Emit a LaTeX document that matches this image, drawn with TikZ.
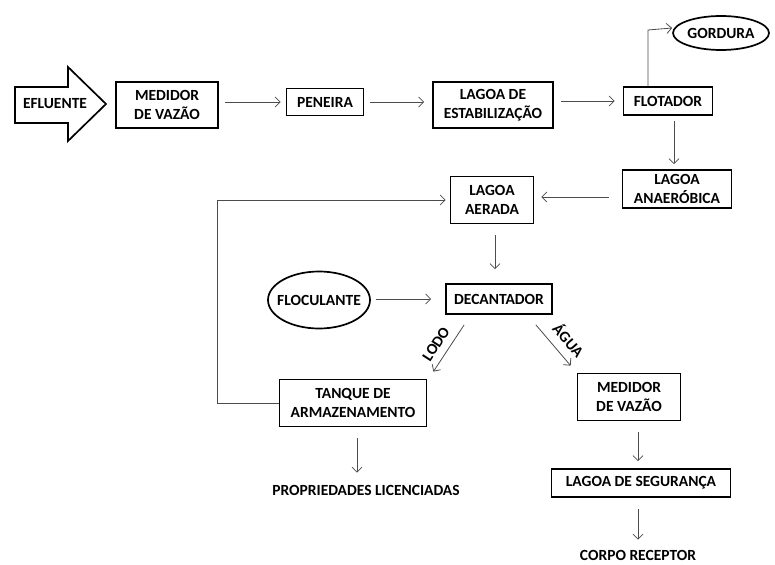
\documentclass[tikz,border=0pt]{standalone}
\usepackage{fontspec}
\setmainfont{Carlito}
\usetikzlibrary{arrows.meta,shapes.geometric}
\begin{document}
\begin{tikzpicture}[x=1pt,y=-1pt,
  every node/.style={font=\bfseries\fontsize{15.5}{18.5}\selectfont, align=center, inner sep=0pt},
  box/.style={draw=black, line width=1.7pt, rectangle},
  oval/.style={draw=black, line width=1.7pt, ellipse, inner xsep=-20pt, inner ysep=-5pt},
  arr/.style={draw=black!70, line width=0.8pt, -{Straight Barb[length=5pt,width=10pt]}}]
\useasboundingbox (0,0) rectangle (775,564);
% EFLUENTE arrow
\draw[line width=1.7pt, line join=miter] (15,87) -- (68,87) -- (68,67) -- (106,104) -- (68,141) -- (68,123) -- (15,123) -- cycle;
\node (efl) at (55,104) {EFLUENTE};
% nodes
\node[box, minimum width=102pt, minimum height=46pt] (med1) at (167,105) {MEDIDOR\\DE VAZÃO};
\node[box, minimum width=77pt, minimum height=27pt] (pen) at (325,102) {PENEIRA};
\node[box, minimum width=120pt, minimum height=46pt] (est) at (493,105) {LAGOA DE\\ESTABILIZAÇÃO};
\node[box, minimum width=89pt, minimum height=28pt] (flot) at (668,101) {FLOTADOR};
\node[oval, minimum width=96pt, minimum height=34pt] (gord) at (721,33) {GORDURA};
\node[box, minimum width=109pt, minimum height=38pt] (anae) at (677,189) {LAGOA\\ANAERÓBICA};
\node[box, minimum width=83pt, minimum height=47pt] (aer) at (492,200) {LAGOA\\AERADA};
\node[oval, minimum width=102pt, minimum height=57pt] (floc) at (319,300) {FLOCULANTE};
\node[box, minimum width=106pt, minimum height=30pt] (dec) at (499,299) {DECANTADOR};
\node[box, minimum width=147pt, minimum height=47pt] (tanq) at (353,403) {TANQUE DE\\ARMAZENAMENTO};
\node[box, minimum width=103pt, minimum height=47pt] (med2) at (629,397) {MEDIDOR\\DE VAZÃO};
\node[box, minimum width=179pt, minimum height=28pt] (seg) at (641,483) {LAGOA DE SEGURANÇA};
\node (prop) at (366,490) {PROPRIEDADES LICENCIADAS};
\node (corp) at (638,555) {CORPO RECEPTOR};
\node[rotate=57] (lodo) at (436,344) {LODO};
\node[rotate=-49] (agua) at (569,340) {ÁGUA};
% connectors
\draw[arr, shorten <=6pt, shorten >=5pt] (med1.east |- pen) -- (pen.west);
\draw[arr, shorten <=6pt, shorten >=8pt] (pen.east) -- (est.west |- pen);
\draw[arr, shorten <=7pt, shorten >=8pt] (est.east |- flot) -- (flot.west);
\coordinate (g1) at (648,30);
\draw[arr] (flot.north -| g1) -- (g1) -- ([yshift=5pt]gord.west);
\draw[arr, shorten <=5pt, shorten >=5pt] ([xshift=6pt]flot.south) -- ([xshift=6pt]flot.south |- anae.north);
\draw[arr, shorten <=13pt, shorten >=7pt] (anae.west |- 0,197) -- (aer.east |- 0,197);
\draw[arr, shorten <=11pt, shorten >=14pt] ([xshift=3pt]aer.south) -- ([xshift=3pt]aer.south |- dec.north);
\draw[arr, shorten <=5pt, shorten >=14pt] (floc.east |- dec) -- (dec.west);
\coordinate (fb) at (217,403);
\draw[arr, shorten >=4pt] (tanq.west) -- (fb) |- (aer.west);
\draw[arr] ([xshift=19pt,yshift=-10pt]dec.south west) -- ([xshift=6pt,yshift=7pt]tanq.north east);
\draw[arr] ([xshift=-17pt,yshift=-10pt]dec.south east) -- ([xshift=-6pt,yshift=7pt]med2.north west);
\draw[arr, shorten <=11pt, shorten >=12pt] ([xshift=4pt]tanq.south) -- ([xshift=4pt]tanq.south |- prop.north);
\draw[arr, shorten <=11pt, shorten >=7pt] (med2.south -| corp) -- (seg.north -| corp);
\draw[arr, shorten <=11pt, shorten >=10pt] (seg.south -| corp) -- (corp.north);
\end{tikzpicture}
\end{document}
